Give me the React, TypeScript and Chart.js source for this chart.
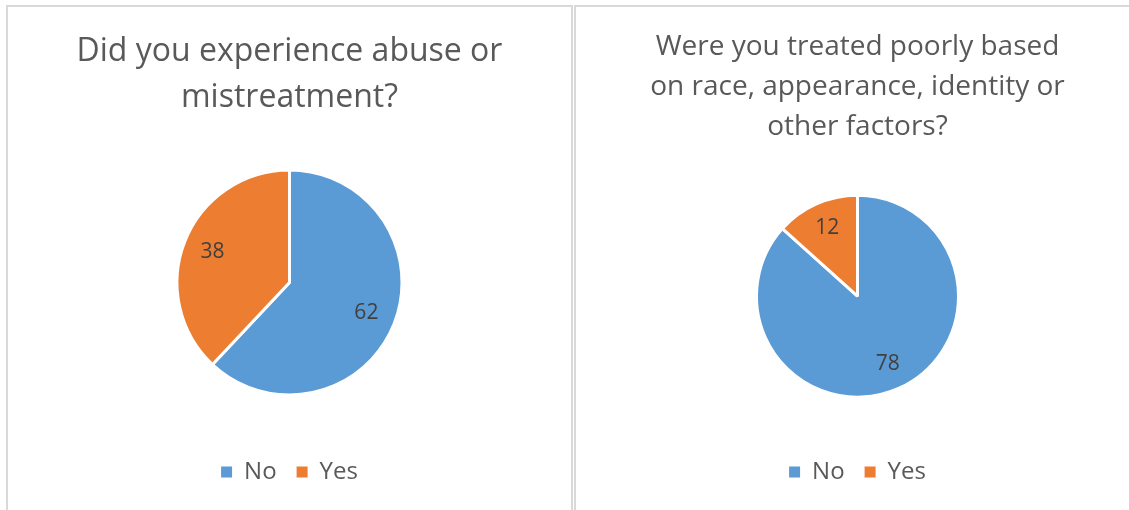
import React, { useEffect, useRef } from "react";
import { Chart, registerables } from "chart.js";

Chart.register(...registerables);

const categories = ["No", "Yes"];
const abuseValues = [62, 38];
const treatedValues = [78, 12];
const abuseTitle = ["Did you experience abuse or", "mistreatment?"];
const treatedTitle = [
  "Were you treated poorly based",
  "on race, appearance, identity or",
  "other factors?",
];
const sliceColors = ["#5B9BD5", "#ED7D31"];

const FONT = "'Open Sans', Lato, sans-serif";

const sliceLabelPlugin = {
  id: "sliceLabels",
  afterDatasetsDraw(chart: any) {
    const ctx = chart.ctx;
    const meta = chart.getDatasetMeta(0);
    const data = chart.data.datasets[0].data;
    ctx.save();
    ctx.font = `21px ${FONT}`;
    ctx.fillStyle = "#404040";
    ctx.textAlign = "center";
    ctx.textBaseline = "middle";
    meta.data.forEach((arc: any, i: number) => {
      const p = arc.getProps(["x", "y", "startAngle", "endAngle", "outerRadius"], true);
      const mid = (p.startAngle + p.endAngle) / 2;
      const r = p.outerRadius * 0.735;
      ctx.fillText(String(data[i]), p.x + Math.cos(mid) * r, p.y + Math.sin(mid) * r);
    });
    ctx.restore();
  },
};

type PieProps = {
  values: number[];
  title: string[];
  radius: number;
  titleSize: number;
  titleLineHeight: number;
  titlePadTop: number;
  titlePadBottom: number;
};

function PieChart(props: PieProps) {
  const ref = useRef<HTMLCanvasElement | null>(null);
  useEffect(() => {
    if (!ref.current) return;
    const chart = new Chart(ref.current, {
      type: "pie",
      data: {
        labels: categories,
        datasets: [
          {
            data: props.values,
            backgroundColor: sliceColors,
            borderColor: "#FFFFFF",
            borderWidth: 3,
            radius: props.radius,
          } as any,
        ],
      },
      options: {
        responsive: false,
        animation: false,
        layout: { padding: { top: 0, left: 0, right: 0, bottom: 16 } },
        plugins: {
          tooltip: { enabled: false },
          title: {
            display: true,
            text: props.title,
            color: "#595959",
            font: {
              family: FONT,
              size: props.titleSize,
              weight: "normal",
              lineHeight: `${props.titleLineHeight}px`,
            },
            padding: { top: props.titlePadTop, bottom: props.titlePadBottom },
          },
          legend: {
            display: true,
            position: "bottom",
            labels: {
              boxWidth: 11,
              boxHeight: 11,
              padding: 20,
              color: "#595959",
              font: { family: FONT, size: 24 },
              generateLabels: () =>
                categories.map((c, i) => ({
                  text: c,
                  fillStyle: sliceColors[i],
                  strokeStyle: sliceColors[i],
                  lineWidth: 0,
                  hidden: false,
                  index: i,
                  fontColor: "#595959",
                })),
            },
          },
        },
      },
      plugins: [sliceLabelPlugin],
    } as any);
    return () => chart.destroy();
  }, []);
  return (
    <canvas
      ref={ref}
      width={563}
      height={503}
      style={{ position: "absolute", left: 0, top: 0, width: 563, height: 503 }}
    />
  );
}

const panelStyle = (left: number): React.CSSProperties => ({
  position: "absolute",
  left,
  top: 5,
  width: 567,
  height: 520,
  border: "2px solid #d9d9d9",
  boxSizing: "border-box",
  background: "#ffffff",
});

export default function App() {
  return (
    <div
      style={{
        position: "fixed",
        left: 0,
        top: 0,
        width: 1129,
        height: 510,
        overflow: "hidden",
        background: "#ffffff",
      }}
    >
      <div style={panelStyle(6)}>
        <PieChart
          values={abuseValues}
          title={abuseTitle}
          radius={112.5}
          titleSize={32}
          titleLineHeight={46}
          titlePadTop={22}
          titlePadBottom={4}
        />
      </div>
      <div style={panelStyle(574)}>
        <PieChart
          values={treatedValues}
          title={treatedTitle}
          radius={101}
          titleSize={28}
          titleLineHeight={40}
          titlePadTop={20}
          titlePadBottom={5.4}
        />
      </div>
    </div>
  );
}
